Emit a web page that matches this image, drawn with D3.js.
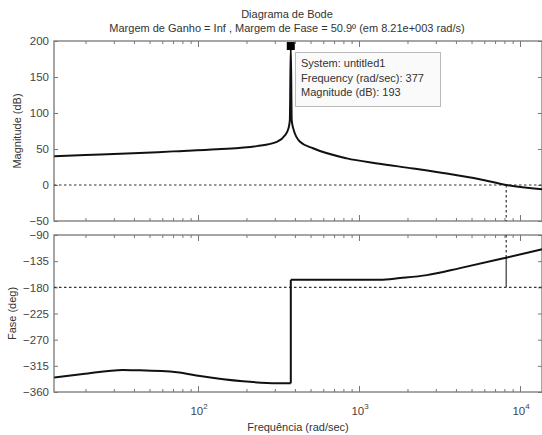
<!DOCTYPE html>
<html>
<head>
<meta charset="utf-8">
<script src="https://cdn.jsdelivr.net/npm/d3@7"></script>
<style>
  body { margin: 0; background: #fff; }
  text { font-family: "Liberation Sans", Arial, sans-serif; fill: #333; }
  .axis path, .axis line { stroke: #777; }
</style>
</head>
<body>
<div class="chart"></div>
<script>
// data
var magFreq = [12.8, 20, 39.5, 70, 131, 232, 309, 347, 365, 372, 377, 382, 390, 430, 518, 841, 1300, 2163, 3500, 5620, 8210, 13700];
var magDb   = [40, 41.6, 44, 46.7, 49.6, 54, 60, 69, 79, 90, 193, 90, 79, 60, 51, 37, 30, 23, 16, 8, 0, -6];

var phaseFreq = [12.8, 19.3, 34.2, 41.8, 74, 103, 190, 309, 377, 377, 1350, 1800, 2640, 4240, 8210, 13700];
var phaseDeg  = [-335, -329, -322, -322.5, -326, -332.5, -341.6, -345, -345, -167, -167, -164, -159, -147, -129, -114.6];

var magTicks = [-50, 0, 50, 100, 150, 200];
var phaseTicks = [-360, -315, -270, -225, -180, -135, -90];
var majorFreq = [100, 1000, 10000];
var minorFreq = [20, 30, 40, 50, 60, 70, 80, 90, 200, 300, 400, 500, 600, 700, 800, 900,
                 2000, 3000, 4000, 5000, 6000, 7000, 8000, 9000];

var titleLines = ["Diagrama de Bode", "Margem de Ganho = Inf ,  Margem de Fase = 50.9º (em 8.21e+003 rad/s)"];
var tipLines = ["System: untitled1", "Frequency (rad/sec): 377", "Magnitude (dB): 193"];
var peakFreq = 377, peakDb = 193;
var pmFreq = 8210, pmDeg = -129.1;

var svgWidth = 542, svgHeight = 435;
var left = 54, right = 542;
var magTop = 41, magBottom = 221;
var phTop = 235, phBottom = 392;

var svg = d3.select(".chart").append("svg")
    .attr("width", svgWidth)
    .attr("height", svgHeight);

// scales
var x = d3.scaleLog().domain([Math.pow(10, 1.1056), Math.pow(10, 4.1366)]).range([left, right]);
var yMag = d3.scaleLinear().domain([-50, 200]).range([magBottom, magTop]);
var yPh = d3.scaleLinear().domain([-360, -90]).range([phBottom, phTop]);

function drawBox(y, top, bottom, ticks) {
    var g = svg.append("g");
    // left axis with labels
    g.append("g").attr("class", "axis")
        .attr("transform", `translate(${left},0)`)
        .call(d3.axisLeft(y).tickValues(ticks).tickSize(-4).tickPadding(5).tickSizeOuter(0))
        .selectAll("text").style("font-size", "11.5px").style("fill", "#444");
    g.append("g").attr("class", "axis")
        .attr("transform", `translate(${right},0)`)
        .call(d3.axisRight(y).tickValues(ticks).tickSize(-4).tickFormat("").tickSizeOuter(0));
    // top / bottom frequency ticks
    [[top, d3.axisTop], [bottom, d3.axisBottom]].forEach(function(p) {
        g.append("g").attr("class", "axis")
            .attr("transform", `translate(0,${p[0]})`)
            .call(p[1](x).tickValues(majorFreq).tickSize(-6).tickFormat("").tickSizeOuter(0));
        g.append("g").attr("class", "axis")
            .attr("transform", `translate(0,${p[0]})`)
            .call(p[1](x).tickValues(minorFreq).tickSize(-3).tickFormat("").tickSizeOuter(0));
    });
    g.selectAll(".domain").remove();
    g.append("rect")
        .attr("x", left).attr("y", top)
        .attr("width", right - left).attr("height", bottom - top)
        .attr("fill", "none").attr("stroke", "#777").attr("stroke-width", 1.3);
}

drawBox(yMag, magTop, magBottom, magTicks);
drawBox(yPh, phTop, phBottom, phaseTicks);

// decade labels
majorFreq.forEach(function(f) {
    var t = svg.append("text")
        .attr("x", x(f) + 1).attr("y", 415)
        .attr("text-anchor", "middle")
        .style("font-size", "11.5px").style("fill", "#444");
    t.append("tspan").text("10");
    t.append("tspan").attr("dy", -6).style("font-size", "8px").text(Math.round(Math.log10(f)));
});

// reference lines
var dot = "2.5,2.5";
svg.append("line")
    .attr("x1", left).attr("x2", right).attr("y1", yMag(0)).attr("y2", yMag(0))
    .attr("stroke", "#333").attr("stroke-dasharray", dot).attr("stroke-width", 1.2);
svg.append("line")
    .attr("x1", left).attr("x2", right).attr("y1", yPh(-180)).attr("y2", yPh(-180))
    .attr("stroke", "#333").attr("stroke-dasharray", dot).attr("stroke-width", 1.2);
svg.append("line")
    .attr("x1", x(pmFreq)).attr("x2", x(pmFreq)).attr("y1", yMag(0)).attr("y2", magBottom)
    .attr("stroke", "#333").attr("stroke-dasharray", dot).attr("stroke-width", 1.2);
svg.append("line")
    .attr("x1", x(pmFreq)).attr("x2", x(pmFreq)).attr("y1", phTop).attr("y2", yPh(pmDeg))
    .attr("stroke", "#333").attr("stroke-dasharray", dot).attr("stroke-width", 1.2);
svg.append("line")
    .attr("x1", x(pmFreq)).attr("x2", x(pmFreq)).attr("y1", yPh(pmDeg)).attr("y2", yPh(-180))
    .attr("stroke", "#444").attr("stroke-width", 1.3);

// curves
var magPts = magFreq.map((f, i) => [f, magDb[i]]);
var phPts = phaseFreq.map((f, i) => [f, phaseDeg[i]]);
var smooth = d3.line().x(d => x(d[0])).y(d => yMag(d[1])).curve(d3.curveMonotoneX);
var smoothPh = d3.line().x(d => x(d[0])).y(d => yPh(d[1])).curve(d3.curveMonotoneX);
var straightPh = d3.line().x(d => x(d[0])).y(d => yPh(d[1]));

svg.append("path").datum(magPts)
    .attr("d", smooth)
    .attr("fill", "none").attr("stroke", "#111").attr("stroke-width", 2);

// phase: smooth on each side of the jump, straight across it
var jump = 8;
[phPts.slice(0, jump + 1), phPts.slice(jump + 1)].forEach(function(seg) {
    svg.append("path").datum(seg)
        .attr("d", smoothPh)
        .attr("fill", "none").attr("stroke", "#111").attr("stroke-width", 2);
});
svg.append("path").datum(phPts.slice(jump, jump + 2))
    .attr("d", straightPh)
    .attr("fill", "none").attr("stroke", "#111").attr("stroke-width", 2);

// data tip
svg.append("rect")
    .attr("x", x(peakFreq) - 4).attr("y", yMag(peakDb) - 4)
    .attr("width", 8).attr("height", 8)
    .attr("fill", "#000");
svg.append("rect")
    .attr("x", 295.5).attr("y", 52.5)
    .attr("width", 145).attr("height", 54)
    .attr("fill", "#fafafa").attr("stroke", "#bbb");
svg.selectAll(".tip").data(tipLines).enter()
    .append("text")
    .attr("x", 301).attr("y", (d, i) => 67 + i * 14.5)
    .style("font-size", "11px")
    .text(d => d);

// titles
svg.selectAll(".title").data(titleLines).enter()
    .append("text")
    .attr("x", 287).attr("y", (d, i) => 18 + i * 14)
    .attr("text-anchor", "middle")
    .style("font-size", "11px")
    .text(d => d);

svg.append("text")
    .attr("transform", `translate(21, ${(magTop + magBottom) / 2}) rotate(-90)`)
    .attr("text-anchor", "middle")
    .style("font-size", "11px")
    .text("Magnitude (dB)");
svg.append("text")
    .attr("transform", `translate(16, ${(phTop + phBottom) / 2}) rotate(-90)`)
    .attr("text-anchor", "middle")
    .style("font-size", "11px")
    .text("Fase (deg)");
svg.append("text")
    .attr("x", 298).attr("y", 431)
    .attr("text-anchor", "middle")
    .style("font-size", "11px")
    .text("Frequência  (rad/sec)");
</script>
</body>
</html>
